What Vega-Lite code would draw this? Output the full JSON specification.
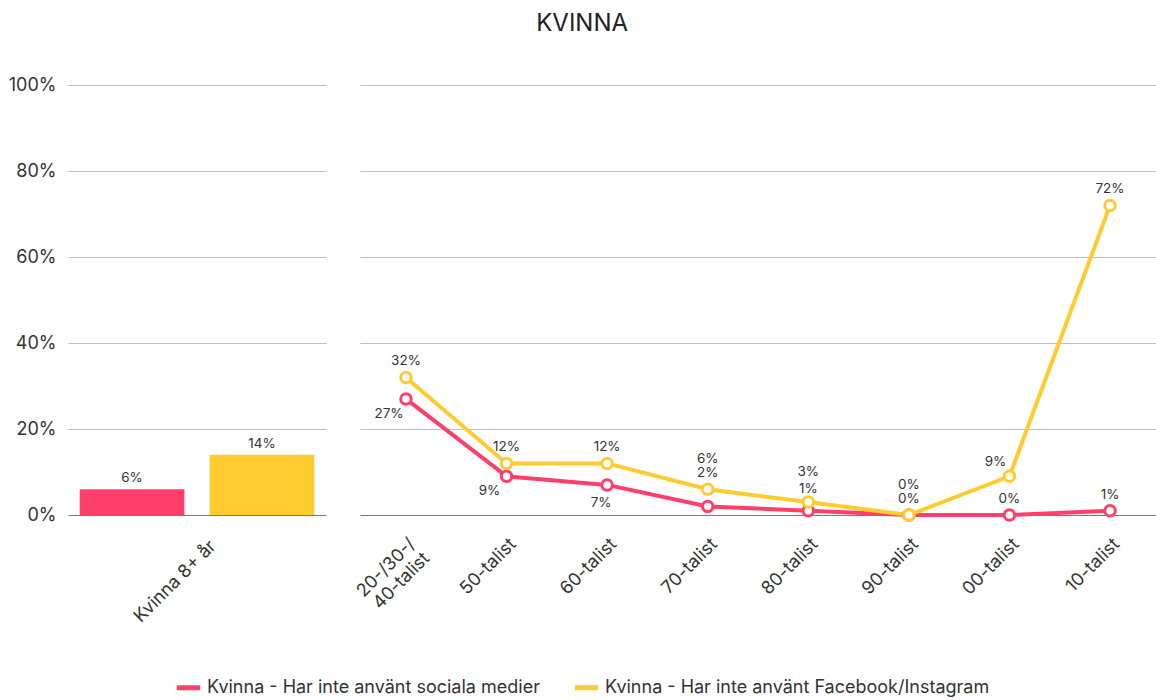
{
  "$schema": "https://vega.github.io/schema/vega-lite/v6.json",
  "padding": {"left": 8, "top": 12, "right": 0, "bottom": 5},
  "background": "white",
  "title": {"text": "KVINNA", "fontSize": 24, "fontWeight": "normal", "color": "#222222", "font": "Inter", "anchor": "middle", "offset": 40},
  "config": {
    "font": "Inter",
    "view": {"stroke": null},
    "axis": {"labelFont": "Inter", "labelColor": "#333333", "labelFontSize": 18, "ticks": false, "domain": false, "title": null},
    "legend": {"labelFont": "Inter", "labelFontSize": 18, "labelColor": "#333333", "labelLimit": 0, "layout": {"bottom": {"anchor": "middle"}}}
  },
  "datasets": {
    "bars": [
      {"group": "Kvinna 8+ år", "series": "Kvinna - Har inte använt sociala medier", "value": 0.06},
      {"group": "Kvinna 8+ år", "series": "Kvinna - Har inte använt Facebook/Instagram", "value": 0.14}
    ],
    "lines": [
      {"cat": "20-/30-/40-talist", "series": "Kvinna - Har inte använt sociala medier", "value": 0.27},
      {"cat": "50-talist", "series": "Kvinna - Har inte använt sociala medier", "value": 0.09},
      {"cat": "60-talist", "series": "Kvinna - Har inte använt sociala medier", "value": 0.07},
      {"cat": "70-talist", "series": "Kvinna - Har inte använt sociala medier", "value": 0.02},
      {"cat": "80-talist", "series": "Kvinna - Har inte använt sociala medier", "value": 0.01},
      {"cat": "90-talist", "series": "Kvinna - Har inte använt sociala medier", "value": 0.0},
      {"cat": "00-talist", "series": "Kvinna - Har inte använt sociala medier", "value": 0.0},
      {"cat": "10-talist", "series": "Kvinna - Har inte använt sociala medier", "value": 0.01},
      {"cat": "20-/30-/40-talist", "series": "Kvinna - Har inte använt Facebook/Instagram", "value": 0.32},
      {"cat": "50-talist", "series": "Kvinna - Har inte använt Facebook/Instagram", "value": 0.12},
      {"cat": "60-talist", "series": "Kvinna - Har inte använt Facebook/Instagram", "value": 0.12},
      {"cat": "70-talist", "series": "Kvinna - Har inte använt Facebook/Instagram", "value": 0.06},
      {"cat": "80-talist", "series": "Kvinna - Har inte använt Facebook/Instagram", "value": 0.03},
      {"cat": "90-talist", "series": "Kvinna - Har inte använt Facebook/Instagram", "value": 0.0},
      {"cat": "00-talist", "series": "Kvinna - Har inte använt Facebook/Instagram", "value": 0.09},
      {"cat": "10-talist", "series": "Kvinna - Har inte använt Facebook/Instagram", "value": 0.72}
    ]
  },
  "resolve": {"scale": {"color": "shared", "x": "independent", "y": "independent"}, "legend": {"color": "shared"}},
  "spacing": 27,
  "hconcat": [
    {
      "width": 258,
      "height": 430,
      "data": {"name": "bars"},
      "encoding": {
        "x": {"field": "group", "type": "nominal", "scale": {"paddingInner": 0, "paddingOuter": 0.05}, "axis": {"labelAngle": -45, "grid": false, "labelPadding": 22, "labelOffset": 10}},
        "xOffset": {"field": "series", "type": "nominal", "sort": ["Kvinna - Har inte använt sociala medier", "Kvinna - Har inte använt Facebook/Instagram"], "scale": {"paddingInner": 0.194, "paddingOuter": 0}},
        "y": {"field": "value", "type": "quantitative", "scale": {"domain": [0, 1]}, "axis": {"values": [0, 0.2, 0.4, 0.6, 0.8, 1], "format": ".0%", "labelPadding": 12, "grid": true, "gridColor": {"condition": {"test": "datum.value === 0", "value": "#7a7a7a"}, "value": "#bdbdc2"}, "gridWidth": 1}}
      },
      "layer": [
        {
          "mark": {"type": "bar"},
          "encoding": {
            "color": {"field": "series", "type": "nominal", "scale": {"domain": ["Kvinna - Har inte använt sociala medier", "Kvinna - Har inte använt Facebook/Instagram"], "range": ["#FF3F69", "#FFCB2F"]}, "legend": {"orient": "bottom", "direction": "horizontal", "title": null, "symbolType": "stroke", "symbolStrokeWidth": 5, "symbolSize": 550, "offset": 47, "columnPadding": 24}}
          }
        },
        {
          "mark": {"type": "text", "baseline": "bottom", "dy": -4, "fontSize": 13.5, "color": "#333333"},
          "encoding": {"text": {"field": "value", "type": "quantitative", "format": ".0%"}}
        }
      ]
    },
    {
      "width": 796,
      "height": 430,
      "data": {"name": "lines"},
      "encoding": {
        "x": {"field": "cat", "type": "nominal", "sort": null, "scale": {"type": "point", "padding": 0.457}, "axis": {"labelAngle": -45, "grid": false, "labelPadding": 20, "labelExpr": "datum.value == '20-/30-/40-talist' ? ['20-/30-/', '40-talist'] : datum.label"}},
        "y": {"field": "value", "type": "quantitative", "scale": {"domain": [0, 1]}, "axis": {"values": [0, 0.2, 0.4, 0.6, 0.8, 1], "labels": false, "grid": true, "gridColor": {"condition": {"test": "datum.value === 0", "value": "#7a7a7a"}, "value": "#bdbdc2"}, "gridWidth": 1}}
      },
      "layer": [
        {
          "mark": {"type": "line", "strokeWidth": 4},
          "encoding": {"color": {"field": "series", "type": "nominal"}}
        },
        {
          "mark": {"type": "point", "filled": false, "fill": "white", "fillOpacity": 1, "opacity": 1, "strokeWidth": 3, "size": 110},
          "encoding": {"color": {"field": "series", "type": "nominal"}}
        },
        {
          "transform": [{"filter": {"and": [{"field": "series", "equal": "Kvinna - Har inte använt Facebook/Instagram"}, {"field": "cat", "oneOf": ["20-/30-/40-talist", "50-talist", "60-talist", "10-talist"]}]}}],
          "mark": {"type": "text", "baseline": "middle", "dy": -16, "fontSize": 13.5, "color": "#333333"},
          "encoding": {"text": {"field": "value", "type": "quantitative", "format": ".0%"}}
        },
        {
          "transform": [{"filter": {"and": [{"field": "series", "equal": "Kvinna - Har inte använt Facebook/Instagram"}, {"field": "cat", "oneOf": ["70-talist", "80-talist", "90-talist"]}]}}],
          "mark": {"type": "text", "baseline": "middle", "dy": -30, "fontSize": 13.5, "color": "#333333"},
          "encoding": {"text": {"field": "value", "type": "quantitative", "format": ".0%"}}
        },
        {
          "transform": [{"filter": {"and": [{"field": "series", "equal": "Kvinna - Har inte använt Facebook/Instagram"}, {"field": "cat", "oneOf": ["00-talist"]}]}}],
          "mark": {"type": "text", "baseline": "middle", "dx": -14, "dy": -14, "fontSize": 13.5, "color": "#333333"},
          "encoding": {"text": {"field": "value", "type": "quantitative", "format": ".0%"}}
        },
        {
          "transform": [{"filter": {"and": [{"field": "series", "equal": "Kvinna - Har inte använt sociala medier"}, {"field": "cat", "oneOf": ["20-/30-/40-talist", "50-talist"]}]}}],
          "mark": {"type": "text", "baseline": "middle", "dx": -17, "dy": 15, "fontSize": 13.5, "color": "#333333"},
          "encoding": {"text": {"field": "value", "type": "quantitative", "format": ".0%"}}
        },
        {
          "transform": [{"filter": {"and": [{"field": "series", "equal": "Kvinna - Har inte använt sociala medier"}, {"field": "cat", "oneOf": ["60-talist"]}]}}],
          "mark": {"type": "text", "baseline": "middle", "dx": -6, "dy": 18, "fontSize": 13.5, "color": "#333333"},
          "encoding": {"text": {"field": "value", "type": "quantitative", "format": ".0%"}}
        },
        {
          "transform": [{"filter": {"and": [{"field": "series", "equal": "Kvinna - Har inte använt sociala medier"}, {"field": "cat", "oneOf": ["70-talist"]}]}}],
          "mark": {"type": "text", "baseline": "middle", "dy": -33, "fontSize": 13.5, "color": "#333333"},
          "encoding": {"text": {"field": "value", "type": "quantitative", "format": ".0%"}}
        },
        {
          "transform": [{"filter": {"and": [{"field": "series", "equal": "Kvinna - Har inte använt sociala medier"}, {"field": "cat", "oneOf": ["80-talist"]}]}}],
          "mark": {"type": "text", "baseline": "middle", "dy": -22, "fontSize": 13.5, "color": "#333333"},
          "encoding": {"text": {"field": "value", "type": "quantitative", "format": ".0%"}}
        },
        {
          "transform": [{"filter": {"and": [{"field": "series", "equal": "Kvinna - Har inte använt sociala medier"}, {"field": "cat", "oneOf": ["90-talist", "00-talist", "10-talist"]}]}}],
          "mark": {"type": "text", "baseline": "middle", "dy": -16, "fontSize": 13.5, "color": "#333333"},
          "encoding": {"text": {"field": "value", "type": "quantitative", "format": ".0%"}}
        }
      ]
    }
  ]
}
